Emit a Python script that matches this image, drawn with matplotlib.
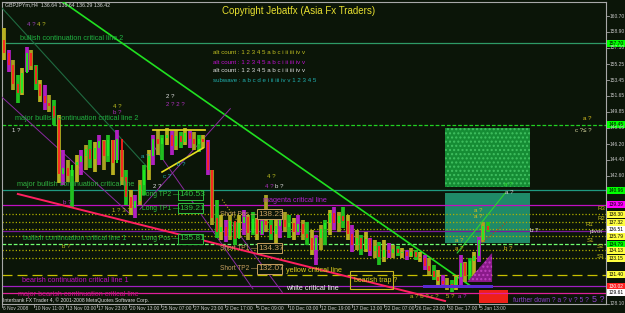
import matplotlib
matplotlib.use("Agg")
import matplotlib.pyplot as plt
from matplotlib.patches import Rectangle, Polygon

# GBPJPYm H4, one candle per ~2 bars
highs = [159.34, 156.85, 155.71, 154.02, 154.81, 157.19, 156.85, 155.15, 153.45, 152.88,
         151.75, 151.19, 149.49, 145.52, 144.39, 143.26, 144.96, 145.52, 146.09, 146.66,
         146.43, 147.22, 146.66, 147.22, 146.66, 147.79, 145.52, 143.26, 140.99, 140.43,
         142.13, 143.82, 145.52, 147.22, 147.79, 147.22, 148.01, 147.79, 147.79, 147.56,
         148.01, 147.79, 147.56, 147.22, 147.22, 146.66, 143.26, 139.86, 138.16, 137.60,
         138.16, 137.37, 138.16, 138.73, 138.16, 138.50, 137.82, 138.16, 140.43, 138.16,
         137.60, 138.16, 138.50, 138.16, 137.82, 138.16, 137.60, 137.37, 136.46, 135.90,
         137.03, 137.60, 138.73, 139.07, 138.50, 139.07, 138.16, 137.03, 136.46, 135.90,
         136.24, 135.56, 135.33, 135.10, 135.33, 134.99, 134.76, 134.65, 134.42, 134.20,
         134.42, 134.20, 133.97, 133.63, 133.29, 132.50, 131.93, 131.37, 131.03, 130.80,
         131.37, 133.63, 132.84, 133.29, 133.97, 135.67, 137.37, 137.37]
lows = [155.71, 154.36, 152.32, 150.85, 151.75, 154.36, 154.58, 152.32, 150.96, 150.05,
        149.83, 148.35, 141.79, 141.56, 141.90, 139.07, 141.90, 142.69, 143.26, 143.48,
        143.03, 143.82, 143.26, 144.16, 142.69, 144.39, 141.56, 139.29, 138.16, 137.82,
        139.29, 140.43, 142.13, 143.82, 144.96, 144.39, 146.09, 144.96, 145.52, 145.75,
        146.09, 145.75, 145.52, 145.30, 145.75, 142.69, 137.03, 135.56, 135.33, 135.10,
        135.33, 134.76, 135.56, 135.90, 135.33, 135.90, 135.33, 135.90, 136.24, 135.33,
        134.76, 135.56, 136.24, 135.56, 135.33, 135.90, 135.33, 134.76, 133.63, 132.50,
        134.20, 134.76, 135.90, 136.46, 136.24, 136.69, 135.33, 133.97, 134.20, 133.63,
        133.97, 133.52, 133.29, 132.50, 132.84, 133.29, 133.29, 133.52, 133.29, 133.07,
        133.40, 133.07, 132.84, 131.93, 131.37, 130.80, 130.23, 129.89, 129.67, 129.44,
        129.67, 130.23, 130.57, 130.80, 131.37, 132.84, 135.10, 136.24]
closes = [156.5, 155.2, 153.0, 152.0, 154.2, 156.5, 155.0, 153.0, 151.6, 150.8,
          150.5, 149.2, 142.8, 143.5, 142.6, 143.8, 144.2, 144.8, 145.6, 144.5,
          145.8, 146.5, 144.8, 146.6, 144.0, 146.8, 142.5, 140.2, 138.9, 139.8,
          141.5, 143.2, 144.8, 146.8, 146.2, 146.9, 147.2, 146.0, 147.1, 146.4,
          147.5, 146.8, 146.2, 146.8, 146.4, 143.2, 137.8, 136.2, 136.8, 135.8,
          137.5, 135.4, 137.2, 137.9, 136.1, 137.7, 136.0, 137.5, 137.0, 136.0,
          136.9, 137.6, 136.8, 137.3, 136.2, 137.1, 136.0, 135.6, 134.2, 135.5,
          136.6, 137.2, 138.4, 137.2, 138.0, 137.5, 136.0, 134.8, 135.6, 134.3,
          135.4, 134.1, 134.6, 133.4, 134.2, 133.8, 134.3, 133.9, 134.0, 133.5,
          134.0, 133.4, 133.3, 132.4, 131.8, 131.1, 130.7, 130.3, 130.4, 130.0,
          131.1, 132.7, 131.2, 132.9, 133.5, 135.3, 136.9, 136.42]
first_open = 158.0

time_labels = ["6 Nov 2008", "10 Nov 11:00", "13 Nov 03:00", "17 Nov 23:00", "20 Nov 13:00",
               "25 Nov 07:00", "27 Nov 23:00", "2 Dec 17:00", "5 Dec 09:00", "10 Dec 03:00",
               "12 Dec 19:00", "17 Dec 13:00", "22 Dec 07:00", "26 Dec 23:00", "30 Dec 17:00",
               "5 Jan 13:00"]
price_ticks = ["160.70", "158.90", "157.10", "155.25", "153.45", "151.65", "149.85", "148.05",
               "146.20", "144.40", "142.60", "128.10"]

# horizontal critical lines / pivots: price, colour, style
levels = [(157.64, "#2e9a66", "-"), (148.36, "#22d022", (0, (3, 1.5))), (140.99, "#1f9a80", "-"),
          (139.30, "#c010c0", "-"), (138.27, "#b0b000", ":"), (137.37, "#b0b000", ":"),
          (136.57, "#b0b000", ":"), (136.40, "#7a1a9a", "-"), (135.78, "#b0b000", ":"),
          (134.82, "#70ff70", (0, (3, 1.5))), (134.18, "#b0b000", ":"), (133.29, "#b0b000", ":"),
          (131.40, "#c8c000", (0, (8, 4))), (130.10, "#a020c0", "-"), (129.33, "#e0209a", "-")]
# right axis boxes: text, price, face, text colour
boxes = [("157.70", 157.64, "#00ff00", "black"), ("148.45", 148.36, "#00ff00", "black"),
         ("140.96", 140.99, "#00ff00", "black"), ("139.39", 139.30, "#ff00ff", "black"),
         ("138.30", 138.27, "#ffff40", "black"), ("137.32", 137.37, "#ffff40", "black"),
         ("136.51", 136.57, "#ffffff", "black"), ("135.79", 135.78, "#ffff40", "black"),
         ("134.79", 134.82, "#00ff00", "black"), ("134.13", 134.18, "#ffff40", "black"),
         ("133.15", 133.29, "#ffff40", "black"), ("131.40", 131.40, "#ffff40", "black"),
         ("130.02", 130.10, "#ff2020", "white"), ("129.61", 129.33, "#ffffff", "black")]

W, H = 625, 313
BG = "#0b1508"
plt.rcParams["font.family"] = ["Liberation Sans", "DejaVu Sans"]

fig = plt.figure(figsize=(6.25, 3.13), dpi=100)
fig.patch.set_facecolor(BG)
ax = fig.add_axes([2 / W, 1 - 304 / H, 604 / W, 302 / H])
ax.set_facecolor(BG)
ax.set_xlim(-0.5, 133.1)
ax.set_ylim(128.08, 162.28)
ax.set_xticks([])
ax.set_yticks([])
for s in ax.spines.values():
    s.set_color("#a8a8a8")
    s.set_linewidth(0.8)


def ft(px, py, s, c, size=4.4, **kw):
    fig.text(px / W, 1 - py / H, s, color=c, fontsize=size, va="center", **kw)


# rectangles behind everything
ax.add_patch(Rectangle((97.5, 141.33), 18.8, 6.68, facecolor="#158c34", edgecolor="#40c060",
                       hatch="....", lw=0, zorder=1))
ax.add_patch(Rectangle((97.5, 134.99), 18.8, 5.66, facecolor="#1f8a68", lw=0, zorder=1))
ax.add_patch(Rectangle((105.0, 128.2), 6.4, 1.47, facecolor="#ee2018", lw=0, zorder=1))

for p, c, ls in levels:
    ax.axhline(p, color=c, ls=ls, lw=0.9, zorder=2)

# price bars
opens = [first_open] + closes[:-1]
wick_cols = ["#b8b020", "#b020c0", "#a8a020", "#20c020"]
for i in range(len(closes)):
    up = closes[i] >= opens[i]
    col = "#20f020" if up else "#ff2020"
    ax.vlines(i, lows[i], highs[i], color=wick_cols[i % 4], lw=2.7, zorder=4)
    ax.vlines(i, min(opens[i], closes[i]), max(opens[i], closes[i]), color=col, lw=1.3, zorder=5)

# trend lines
ax.plot([13.0, 103.5], [162.28, 130.0], color="#20e020", lw=1.2, zorder=3)
ax.plot([3.0, 97.5], [140.54, 128.42], color="#ff2060", lw=1.4, zorder=6)
ax.plot([-0.5, 32.2], [161.6, 143.26], color="#1f6a40", lw=0.8, zorder=3)
ax.plot([-0.5, 28.0], [151.5, 138.2], color="#8a2aa0", lw=0.7, zorder=3)
ax.plot([30.0, 50.0], [138.8, 150.2], color="#8a2aa0", lw=0.7, zorder=3)
ax.plot([33.0, 55.0], [146.0, 129.8], color="#8a2aa0", lw=0.7, zorder=3)
ax.plot([50.5, 61.5], [137.0, 129.4], color="#8a2aa0", lw=0.7, zorder=3)
ax.plot([32.9, 44.4], [147.79, 147.79], color="#d8d020", lw=1.3, zorder=6)
ax.plot([34.9, 44.0], [143.03, 145.75], color="#e8e020", lw=1.2, zorder=6)
ax.plot([48.2, 52.2], [139.9, 137.0], color="#c0a020", lw=0.8, ls=":", zorder=3)
ax.plot([100.2, 110.8], [133.86, 140.65], color="#30d030", lw=0.8, zorder=6)
ax.plot([104.6, 111.2], [134.54, 137.37], color="#b04020", lw=0.8, ls=":", zorder=6)
ax.add_patch(Polygon([(102.4, 130.57), (107.9, 133.86), (107.9, 130.57)], closed=True,
                     facecolor="#8a1a8a", edgecolor="#c040c0", hatch="....", lw=0, zorder=5))
ax.add_patch(Rectangle((92.6, 129.85), 15.5, 0.38, facecolor="#5a2ad0", lw=0, zorder=5))

# right price axis
for t in price_ticks:
    y = 16 + (160.70 - float(t)) * 8.83
    fig.lines.append(plt.Line2D([606 / W, 609 / W], [1 - y / H, 1 - y / H],
                                transform=fig.transFigure, color="#a8a8a8", lw=0.6))
    ft(609.5, y, t, "#c8c8c8", 3.5)
for t, p, fc, tc in boxes:
    y = 16 + (160.70 - p) * 8.83
    fig.patches.append(Rectangle((607 / W, 1 - (y + 3.5) / H), 18 / W, 7 / H,
                                 transform=fig.transFigure, facecolor=fc, lw=0))
    ft(608.5, y, t, tc, 3.5)

# time axis
for j, t in enumerate(time_labels):
    x = 2 + 31.8 * j
    fig.lines.append(plt.Line2D([x / W, x / W], [1 - 304 / H, 1 - 307 / H],
                                transform=fig.transFigure, color="#a8a8a8", lw=0.6))
    ft(x + 1, 308.5, t, "#c8c8c8", 3.5)

# header / copyright / count legend
ft(5, 5, "GBPJPYm,H4  136.64 136.64 136.29 136.42", "#d8d8d8", 3.8)
ft(222, 11, "Copyright Jebatfx (Asia Fx Traders)", "#e8e030", 7.0)
ft(213, 52, "alt count : 1 2 3 4 5 a b c i ii iii iv v", "#c0c020", 4.4)
ft(213, 62, "alt count : 1 2 3 4 5 a b c i ii iii iv v", "#c010d0", 4.4)
ft(213, 71, "alt count : 1 2 3 4 5 a b c i ii iii iv v", "#e0e0e0", 4.4)
ft(213, 80, "subwave : a b c d e i ii iii iv v 1 2 3 4 5", "#20b0b0", 4.4)

# line captions
ft(20, 38, "bullish continuation critical line 2", "#20b040", 5.2)
ft(15, 119, "major bullish continuation critical line 2", "#20b040", 5.2)
ft(17, 185, "major bullish continuation critical line", "#30b040", 5.2)
ft(23, 239, "bullish continuation critical line 1", "#20b040", 5.2)
ft(22, 280, "bearish continuation critical line 1", "#c010c0", 5.2)
ft(18, 294, "major bearish continuation critical line", "#d0108a", 5.2)
ft(3, 300, "Interbank FX Trader 4, \u00a9 2001-2008 MetaQuotes Software Corp.", "#e0e0e0", 3.6)
ft(263, 201, "magenta critical line", "#b020d0", 5.2)
ft(286, 271, "yellow critical line", "#e0d020", 5.2)
ft(286, 289, "white critical line", "#f0f0f0", 5.2)
ft(354, 280, "bearish trap ?", "#e0d020", 5.0)
fig.patches.append(Rectangle((350 / W, 1 - 289 / H), 43 / W, 18 / H, transform=fig.transFigure,
                             facecolor="none", edgecolor="#c8b820", lw=0.8))

# trade boxes
for lab, val, py, c in [("Long TP2 \u2014", "140.53", 195, "#30c040"),
                        ("Long TP1 \u2014", "139.21", 208, "#30c040"),
                        ("Long Pos \u2014", "135.81", 239, "#30c040")]:
    ft(142, py, lab, c, 4.9)
    fig.patches.append(Rectangle((178 / W, 1 - (py + 5) / H), 25 / W, 10 / H,
                                 transform=fig.transFigure, facecolor=BG, edgecolor=c, lw=0.7))
    ft(179.5, py, val, c, 6.0)
for lab, val, py, c in [("Short Pos \u2014", "138.23", 214, "#c8a060"),
                        ("Short TP1 \u2014", "134.37", 248, "#c8a060"),
                        ("Short TP2 \u2014", "132.07", 269, "#c8a060")]:
    ft(220, py, lab, c, 4.7)
    fig.patches.append(Rectangle((257 / W, 1 - (py + 5) / H), 25 / W, 10 / H,
                                 transform=fig.transFigure, facecolor=BG, edgecolor=c, lw=0.7))
    ft(258.5, py, val, c, 6.0)

# wave counts
for px, py, s, c in [(27, 24, "4 ?", "#a040c0"), (37, 24, "4 ?", "#c0c020"),
                     (166, 96, "2 ?", "#e0e0e0"), (166, 105, "2 ? 2 ?", "#b030c0"),
                     (113, 106, "4 ?", "#c0c020"), (113, 113, "b ?", "#b030c0"),
                     (12, 131, "1 ?", "#e0e0e0"), (141, 157, "a ?", "#20b0b0"),
                     (177, 165, "b ?", "#20b0b0"), (163, 176, "c ?", "#20b0b0"),
                     (153, 187, "2 ?", "#e0e0e0"), (63, 202, "b ?", "#b030c0"),
                     (112, 210, "1 ? 3 ?", "#c0c020"), (267, 177, "4 ?", "#c0c020"),
                     (265, 186, "4 ?", "#b030c0"), (275, 186, "b ?", "#e0e0e0"),
                     (62, 246, "b ?", "#c0c020"),
                     (583, 119, "a ?", "#d8c020"), (575, 130, "c ?\u2264 ?", "#d8d8a0"),
                     (504, 184, "a ?", "#30e030"), (505, 193, "a ?", "#d8d8d8"),
                     (474, 210, "a ?", "#d8c020"), (474, 217, "a ?", "#d8c020"),
                     (530, 231, "b ?", "#e0e0e0"), (504, 249, "b ?", "#d8c020"),
                     (455, 241, "a ?", "#d8c020"), (455, 248, "a ?", "#d8c020"),
                     (597, 209, "R3", "#c8c020"), (597, 218, "R2", "#c8c020"),
                     (586, 225, "R1", "#c8c020"), (590, 232, "pivot", "#d8d8c0"),
                     (587, 240, "S1", "#c8c020"), (597, 247, "S2", "#c8c020"),
                     (597, 256, "S3", "#c8c020"),
                     (410, 296, "a ? b ? c ?", "#c0c020"), (446, 296, "5 ?", "#c0c020"),
                     (458, 296, "a ?", "#b030c0")]:
    ft(px, py, s, c, 4.4)
ft(513, 300, "further down ? a ? v ? 5 ?", "#9040d0", 4.8)
ft(592, 300, "5 ?", "#9040d0", 6.5)

fig.savefig("out.png", dpi=100, facecolor=BG)
